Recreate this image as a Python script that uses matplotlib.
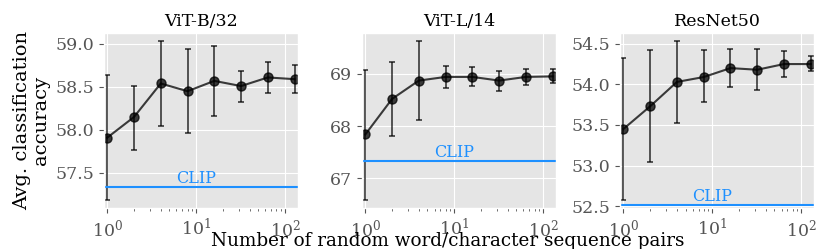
import numpy as np
import matplotlib
matplotlib.use('Agg')
import matplotlib.pyplot as plt

plt.style.use('ggplot')
plt.rcParams['font.family'] = ['DejaVu Serif']

# Number of random word/character sequence pairs
n_pairs = [1, 2, 4, 8, 16, 32, 64, 128]

titles = ['ViT-B/32', 'ViT-L/14', 'ResNet50']

# ViT-B/32
b32_mean = [57.91, 58.15, 58.54, 58.45, 58.57, 58.51, 58.61, 58.59]
b32_low = [57.18, 57.77, 58.05, 57.97, 58.16, 58.33, 58.43, 58.43]
b32_high = [58.64, 58.51, 59.03, 58.94, 58.98, 58.69, 58.79, 58.75]
b32_clip = 57.34

# ViT-L/14
l14_mean = [67.84, 68.52, 68.87, 68.94, 68.94, 68.87, 68.94, 68.95]
l14_low = [66.58, 67.82, 68.11, 68.73, 68.76, 68.68, 68.79, 68.82]
l14_high = [69.08, 69.23, 69.62, 69.15, 69.12, 69.06, 69.10, 69.09]
l14_clip = 67.33

# ResNet50
rn50_mean = [53.45, 53.73, 54.03, 54.09, 54.20, 54.18, 54.25, 54.25]
rn50_low = [52.57, 53.04, 53.53, 53.78, 53.97, 53.93, 54.09, 54.16]
rn50_high = [54.33, 54.42, 54.53, 54.42, 54.43, 54.43, 54.41, 54.35]
rn50_clip = 52.51

panels = [
    (b32_mean, b32_low, b32_high, b32_clip),
    (l14_mean, l14_low, l14_high, l14_clip),
    (rn50_mean, rn50_low, rn50_high, rn50_clip),
]

fig, axes = plt.subplots(1, 3, figsize=(8.3, 2.49), dpi=100)
fig.subplots_adjust(left=0.1253, right=0.981, top=0.866, bottom=0.163, wspace=0.33)

clip_color = '#1E90FF'

for ax, title, (mean, low, high, clip) in zip(axes, titles, panels):
    mean = np.array(mean)
    yerr = [mean - np.array(low), np.array(high) - mean]
    ax.errorbar(n_pairs, mean, yerr=yerr, fmt='-o', color='black', alpha=0.75,
                markersize=6.5, linewidth=1.5, elinewidth=1.2, capsize=2.5,
                capthick=1.2)
    ax.axhline(clip, color=clip_color, linewidth=1.5)
    ax.set_xscale('log')
    ax.set_xlim(0.92, 140)
    ax.text(10, clip, 'CLIP', color=clip_color, ha='center', va='bottom',
            fontsize=11.5)
    ax.set_title(title, fontsize=12.5, color='black', pad=5)
    ax.tick_params(axis='both', labelsize=12.5, colors='#555555', labelcolor='#555555')

axes[1].set_yticks([67, 68, 69])

axes[0].set_ylabel('Avg. classification\naccuracy', fontsize=14, color='black',
                   linespacing=1.05, labelpad=4)
fig.text(0.54, 0.012, 'Number of random word/character sequence pairs',
         ha='center', va='baseline', fontsize=13.2, color='black')

fig.savefig('out.png', dpi=100)
